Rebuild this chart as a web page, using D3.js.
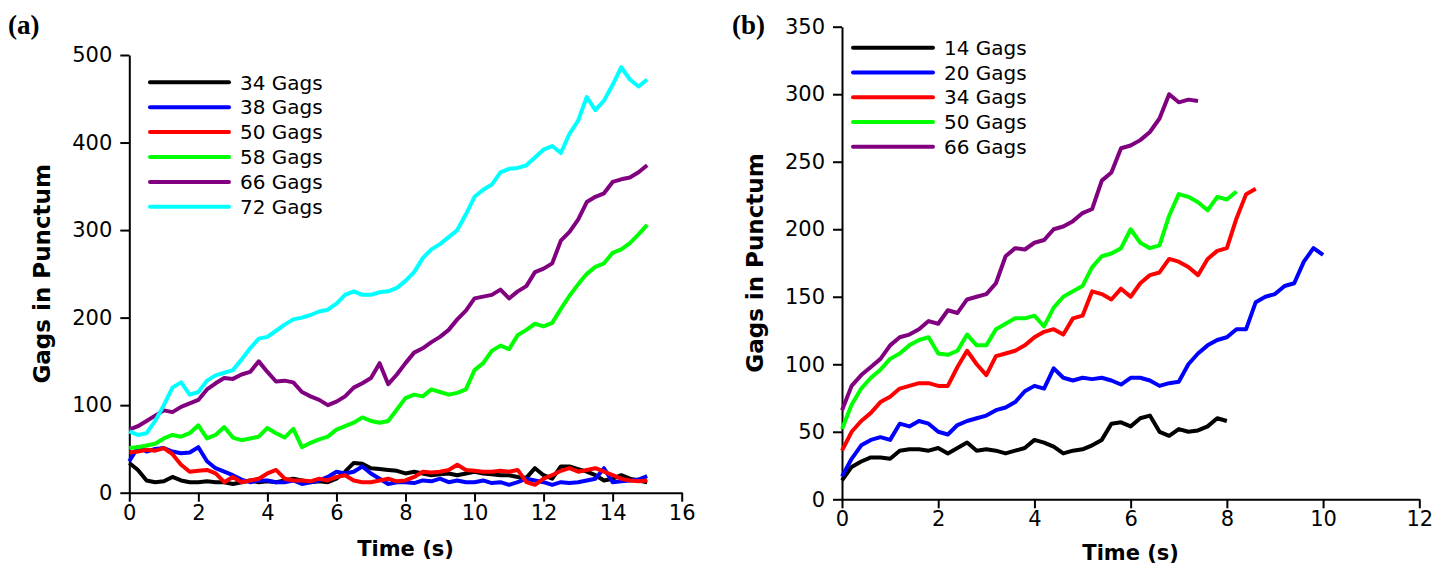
<html>
<head>
  <script src="https://d3js.org/d3.v7.min.js"></script>
  <style>
    body { margin: 0; background: white; }
    text { font-family: "DejaVu Sans", sans-serif; }
    .axis path, .axis line { stroke: black; stroke-width: 2; }
    .axis text { font-size: 21px; fill: black; }
  </style>
</head>
<body>
  <svg id="fig" width="1447" height="564"></svg>
  <script>
    // ---- panel (a): sampled every 0.25 s from 0 to 15 s ----
    const timeA = d3.range(0, 15.001, 0.25);
    const gags34 = [34,26,14,12,13,18,14,12,12,13, 12,12,10,12,14,12,13,12,14,16, 14,12,13,12,16,24,34,33,28,27,
      26,25,22,24,22,20,21,22,20,22, 24,22,21,20,20,18,17,28,20,16, 30,30,27,24,20,14,16,20,16,14, 12];
    const gags38 = [36,52,47,50,51,47,45,46,52,36, 28,24,20,15,12,14,14,12,12,14, 10,12,14,18,24,22,24,30,22,16,
      10,12,12,11,14,13,16,12,14,12, 12,14,11,12,9,12,16,14,12,9, 12,11,12,14,16,28,12,13,14,15, 19];
    const gags50 = [46,47,49,48,51,44,32,24,25,26, 22,12,18,12,14,16,22,26,16,14, 14,13,16,14,18,20,14,12,12,14,
      16,13,14,18,24,23,24,26,32,26, 25,24,24,25,24,26,12,9,16,20, 25,28,24,26,28,24,20,16,14,13, 14];
    const gags58 = [51,52,54,56,62,66,64,68,77,62, 66,75,63,60,62,64,74,68,63,73, 52,57,61,64,72,76,80,86,82,80,
      82,95,108,112,110,118,115,112,114,118, 140,148,162,168,164,180,186,193,190,194, 210,225,238,250,258,262,274,278,285,295, 306];
    const gags66a = [72,76,82,88,94,92,98,102,106,118, 125,131,130,135,138,150,138,127,128,126, 115,110,106,100,104,110,120,125,131,148,
      124,135,148,160,165,172,178,186,198,208, 222,224,226,232,222,230,236,252,256,262, 288,298,312,332,338,342,355,358,360,366, 374];
    const gags72 = [70,66,68,82,100,120,126,112,115,128, 134,137,140,152,165,176,178,185,192,198, 200,203,207,209,216,226,230,226,226,229,
      230,234,242,252,268,278,284,292,300,318, 338,346,352,366,370,371,374,383,392,396, 388,410,425,452,437,448,466,486,472,464, 472];

    const labelsA = ["34 Gags", "38 Gags", "50 Gags", "58 Gags", "66 Gags", "72 Gags"];
    const colorsA = ["#000000", "#0000ff", "#ff0000", "#00ff00", "#800080", "#00ffff"];
    const seriesA = [gags34, gags38, gags50, gags58, gags66a, gags72];
    const xTicksA = [0, 2, 4, 6, 8, 10, 12, 14, 16];
    const yTicksA = [0, 100, 200, 300, 400, 500];

    // ---- panel (b): sampled every 0.2 s ----
    const timeB = d3.range(0, 10.001, 0.2);
    const gags14 = [14,24,28,31,31,30,36,37,37,36, 38,34,38,42,36,37,36,34,36,38, 44,42,39,34,36,37,40,44,56,57,
      54,60,62,50,47,52,50,51,54,60, 58];
    const gags20 = [17,30,40,44,46,44,56,54,58,56, 50,48,55,58,60,62,66,68,72,80, 84,82,97,90,88,90,89,90,88,85,
      90,90,88,84,86,87,100,108,114,118, 120,126,126,146,150,152,158,160,176,186, 181];
    const gags34b = [36,50,58,64,72,76,82,84,86,86, 84,84,98,110,100,92,106,108,110,114, 120,124,126,122,134,136,154,152,148,156,
      150,160,166,168,178,176,172,166,178,184, 186,208,226,230];
    const gags50b = [52,70,82,90,96,104,108,114,118,120, 108,107,110,122,114,114,126,130,134,134, 136,128,142,150,154,158,172,180,182,186,
      200,190,186,188,210,226,224,220,214,224, 222,228];
    const gags66b = [66,84,92,98,104,114,120,122,126,132, 130,140,138,148,150,152,160,180,186,185, 190,192,200,202,206,212,215,236,242,260,
      262,266,272,282,300,294,296,295];

    const labelsB = ["14 Gags", "20 Gags", "34 Gags", "50 Gags", "66 Gags"];
    const colorsB = ["#000000", "#0000ff", "#ff0000", "#00ff00", "#800080"];
    const seriesB = [gags14, gags20, gags34b, gags50b, gags66b];
    const xTicksB = [0, 2, 4, 6, 8, 10, 12];
    const yTicksB = [0, 50, 100, 150, 200, 250, 300, 350];

    const svg = d3.select("svg#fig");
    svg.append("rect").attr("width", 1447).attr("height", 564).style("fill", "white");

    function drawPanel(cfg) {
      const x = d3.scaleLinear().domain(cfg.xDomain).range(cfg.xRange);
      const y = d3.scaleLinear().domain(cfg.yDomain).range(cfg.yRange);
      const g = svg.append("g");

      g.append("g").attr("class", "axis")
        .attr("transform", `translate(0,${cfg.yRange[0]})`)
        .call(d3.axisBottom(x).tickValues(cfg.xTicks).tickFormat(d3.format("d"))
          .tickSize(9).tickSizeOuter(0).tickPadding(3));
      g.append("g").attr("class", "axis")
        .attr("transform", `translate(${cfg.xRange[0]},0)`)
        .call(d3.axisLeft(y).tickValues(cfg.yTicks).tickFormat(d3.format("d"))
          .tickSize(9).tickSizeOuter(0).tickPadding(8));

      const line = d3.line().x((d, i) => x(cfg.time[i])).y(d => y(d));
      cfg.series.forEach((s, k) => {
        g.append("path")
          .datum(s)
          .attr("d", line)
          .style("fill", "none")
          .style("stroke", cfg.colors[k])
          .style("stroke-width", 4)
          .style("stroke-linejoin", "round");
      });

      // legend
      cfg.labels.forEach((lab, k) => {
        const ly = cfg.legendY + k * cfg.legendStep;
        g.append("line")
          .attr("x1", cfg.legendX).attr("x2", cfg.legendX + cfg.legendLen)
          .attr("y1", ly).attr("y2", ly)
          .style("stroke", cfg.colors[k]).style("stroke-width", 4)
          .style("stroke-linecap", "round");
        g.append("text")
          .attr("x", cfg.legendX + cfg.legendLen + 11).attr("y", ly)
          .attr("dy", "0.36em")
          .style("font-size", "20px")
          .text(lab);
      });

      // axis titles
      g.append("text")
        .attr("transform", `translate(${cfg.yTitleX},${(cfg.yRange[0] + cfg.yRange[1]) / 2}) rotate(-90)`)
        .attr("text-anchor", "middle")
        .style("font-size", "23px").style("font-weight", "bold")
        .text("Gags in Punctum");
      g.append("text")
        .attr("x", (x(cfg.xTicks[0]) + x(cfg.xTicks[cfg.xTicks.length - 1])) / 2)
        .attr("y", cfg.xTitleY)
        .attr("text-anchor", "middle")
        .style("font-size", "21px").style("font-weight", "bold")
        .text("Time (s)");

      g.append("text")
        .attr("x", cfg.tagX).attr("y", 34)
        .style("font-family", "'Liberation Serif', serif")
        .style("font-size", "27px").style("font-weight", "bold")
        .text(cfg.tag);
    }

    drawPanel({
      time: timeA, series: seriesA, colors: colorsA, labels: labelsA,
      xDomain: [0, 16], xRange: [129.3, 681.7], yDomain: [0, 500], yRange: [492.7, 55],
      xTicks: xTicksA, yTicks: yTicksA,
      legendX: 150, legendLen: 79, legendY: 82.3, legendStep: 24.9,
      yTitleX: 50, xTitleY: 556, tag: "(a)", tagX: 8
    });

    drawPanel({
      time: timeB, series: seriesB, colors: colorsB, labels: labelsB,
      xDomain: [0, 12], xRange: [842, 1419.3], yDomain: [0, 350], yRange: [499.3, 26.7],
      xTicks: xTicksB, yTicks: yTicksB,
      legendX: 853, legendLen: 80, legendY: 47.7, legendStep: 24.75,
      yTitleX: 763, xTitleY: 560, tag: "(b)", tagX: 732
    });
  </script>
</body>
</html>
